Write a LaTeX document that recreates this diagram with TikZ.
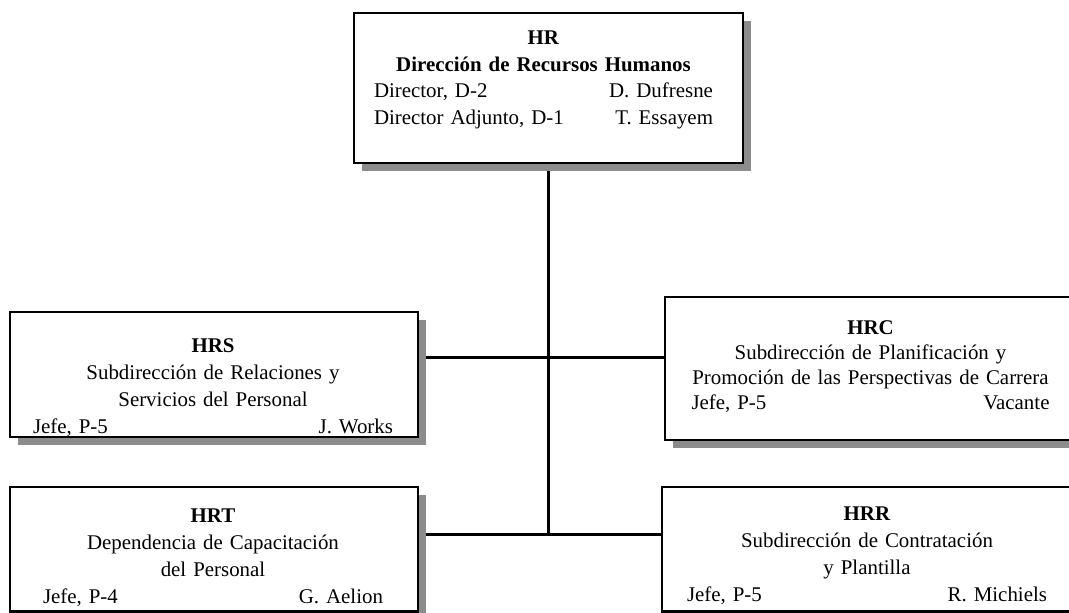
\documentclass[tikz,border=0pt]{standalone}
\usepackage{fontspec}
\setmainfont{Liberation Serif}
\usetikzlibrary{shadows,backgrounds}
\newcommand{\spread}{\hskip0pt plus1filll\relax}
\begin{document}
\begin{tikzpicture}[x=1pt,y=-1pt,
  box/.style={draw=black, line width=2.6pt, fill=white, inner sep=0pt,
    drop shadow={shadow xshift=8pt, shadow yshift=-8pt, opacity=1, fill=black!45}},
  txt/.style={anchor=base, inner sep=0pt, align=center, font=\fontsize{20.9}{27}\selectfont},
  link/.style={line width=3pt}]
\useasboundingbox (0,0) rectangle (1069,613);
\clip (0,0) rectangle (1069,613);
\begin{pgfonlayer}{background}
\fill[white] (0,0) rectangle (1069,613);
\end{pgfonlayer}

% boxes
\node[box, minimum width=389pt, minimum height=150pt] (hr) at (548.5,88) {};
\node[box, minimum width=408pt, minimum height=125pt] (hrs) at (214,374.5) {};
\node[box, minimum width=407pt, minimum height=143pt] (hrc) at (868.5,368.5) {};
\node[box, minimum width=408pt, minimum height=124.5pt] (hrt) at (214,549.25) {};
\node[box, minimum width=412pt, minimum height=124.5pt] (hrr) at (868,549.25) {};

% texts
\node[txt, text width=339pt] (hrtext) at (543.5,44)
  {\textbf{HR}\\\textbf{Dirección de Recursos Humanos}\\Director, D-2\spread D. Dufresne\\Director Adjunto, D-1\spread T. Essayem};
\node[txt, text width=360pt] (hrstext) at (213,352)
  {\textbf{HRS}\\Subdirección de Relaciones y\\Servicios del Personal\\Jefe, P-5\spread J. Works};
\node[txt, text width=358pt, font=\fontsize{20.9}{25}\selectfont] (hrctext) at (870.5,334)
  {\textbf{HRC}\\Subdirección de Planificación y\\\mbox{Promoción de las Perspectivas de Carrera}\\Jefe, P-5\spread Vacante};
\node[txt, text width=340pt] (hrttext) at (213,522)
  {\textbf{HRT}\\Dependencia de Capacitación\\del Personal\\Jefe, P-4\spread G. Aelion};
\node[txt, text width=360pt] (hrrtext) at (867,520)
  {\textbf{HRR}\\Subdirección de Contratación\\y Plantilla\\Jefe, P-5\spread R. Michiels};

% connectors
\coordinate (j1) at (548.5,357);
\coordinate (j2) at (548.5,534);
\begin{pgfonlayer}{background}
\draw[link] (hr.south) -- (hr.south |- j2);
\draw[link] (j1 -| hrs.east) -- (j1 -| hrc.west);
\draw[link] (j2 -| hrt.east) -- (j2 -| hrr.west);
\end{pgfonlayer}
\end{tikzpicture}
\end{document}
